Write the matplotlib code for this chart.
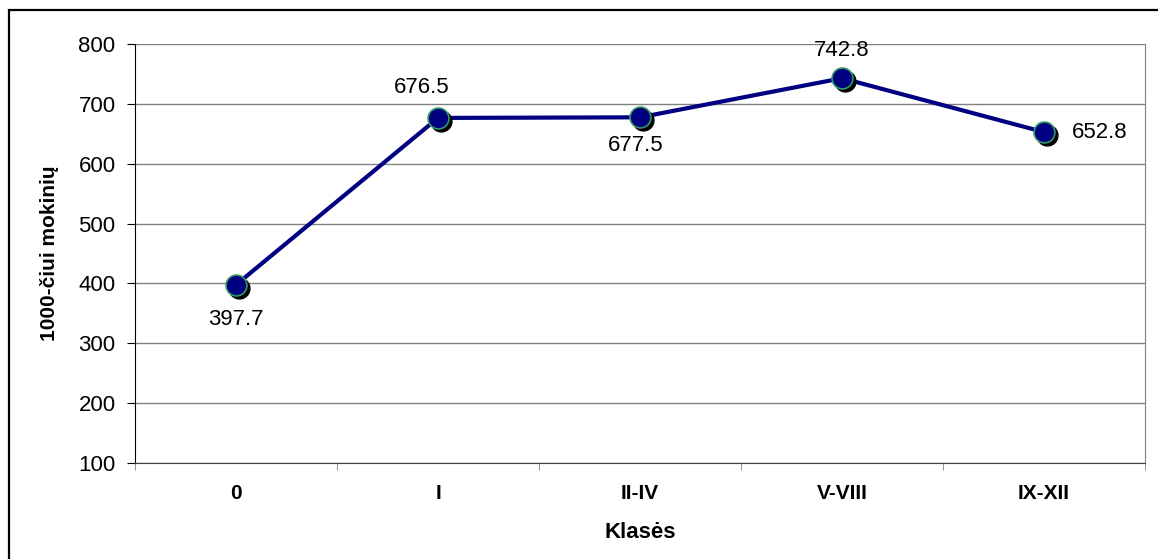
import matplotlib.pyplot as plt
import numpy as np
from matplotlib.transforms import offset_copy
from matplotlib.patches import Rectangle

plt.rcParams['font.family'] = ['Liberation Sans', 'DejaVu Sans']

###### duomenys
klases = ['0', 'I', 'II-IV', 'V-VIII', 'IX-XII']
reiksmes = [397.7, 676.5, 677.5, 742.8, 652.8]
# etikeciu postumiai (taskais) nuo tasko
etik_dx = [0, -12, -3, 0, 40]
etik_dy = [-25, 22, -20, 20, 0]

fig = plt.figure(figsize=(11.58, 5.59), dpi=100)
ax = fig.add_axes([0.1166, 0.1717, 0.9888 - 0.1166, 0.9213 - 0.1717])

x = np.arange(len(klases))

###### linija
ax.plot(x, reiksmes, color='#000080', lw=3, zorder=3)
###### seselis
sh = offset_copy(ax.transData, fig=fig, x=2.2, y=-2.2, units='points')
ax.plot(x, reiksmes, 'o', ms=15, color='black', transform=sh, zorder=4)
###### taskai
ax.plot(x, reiksmes, 'o', ms=15, mfc='#000080', mec='#339966', mew=1.2, zorder=5)

for xi, v, dx, dy in zip(x, reiksmes, etik_dx, etik_dy):
    ax.annotate(f'{v:.1f}', (xi, v), xytext=(dx, dy), textcoords='offset points',
                ha='center', va='center', fontsize=16, zorder=6)

###### asys
ax.set_xlim(-0.5, len(klases) - 0.5)
ax.set_ylim(100, 800)
ax.set_yticks(np.arange(100, 801, 100))
ax.yaxis.grid(True, color='#808080', lw=1)
ax.set_axisbelow(True)

ax.set_xticks(x)
ax.set_xticklabels(klases, fontweight='bold', fontsize=15)
ax.set_xticks(np.arange(-0.5, len(klases), 1), minor=True)
ax.tick_params(axis='x', which='major', length=0, pad=15)
ax.tick_params(axis='x', which='minor', length=5, direction='out', color='#808080')
ax.tick_params(axis='y', length=6, direction='out', labelsize=16, pad=8)

ax.spines['top'].set_visible(False)
ax.spines['right'].set_color('#808080')
ax.spines['left'].set_color('black')
ax.spines['bottom'].set_color('#404040')

ax.set_xlabel('Klasės', fontweight='bold', fontsize=16, labelpad=14)
ax.set_ylabel('1000-čiui mokinių', fontweight='bold', fontsize=15, labelpad=14)

###### remelis aplink
fig.patches.append(Rectangle((9 / 1158, -0.1), 1.2, 1 - 10 / 559 + 0.1,
                             transform=fig.transFigure, fill=False,
                             edgecolor='black', lw=1.6))

plt.savefig('out.png', dpi=100)
